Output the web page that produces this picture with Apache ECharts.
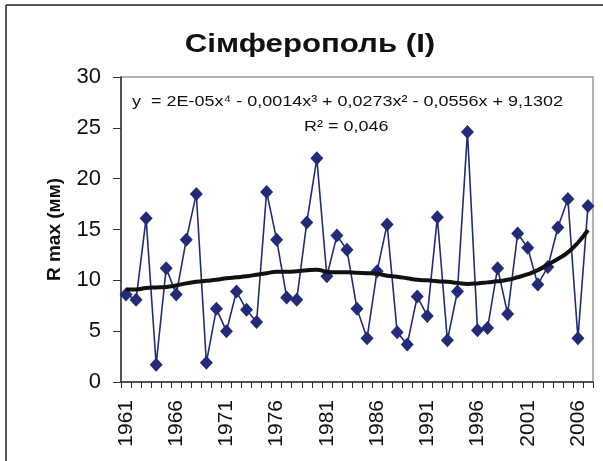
<!DOCTYPE html>
<html>
<head>
<meta charset="utf-8">
<script src="https://cdn.jsdelivr.net/npm/echarts@6/dist/echarts.min.js"></script>
<style>
  html, body { margin: 0; padding: 0; background: #fff; }
  #chart { width: 603px; height: 461px; }
</style>
</head>
<body>
<div id="chart"></div>
<script>
// роки спостережень
const years = [];
for (let y = 1961; y <= 2007; y++) years.push(String(y));

// R max, мм
const rMax = [
  8.6, 8.1, 16.1, 1.7, 11.2, 8.6, 14.0, 18.5, 1.9, 7.2,
  5.0, 8.9, 7.1, 5.9, 18.7, 14.0, 8.3, 8.1, 15.7, 22.0,
  10.4, 14.4, 13.0, 7.2, 4.3, 10.9, 15.5, 4.9, 3.7, 8.4,
  6.5, 16.2, 4.1, 8.9, 24.6, 5.1, 5.3, 11.2, 6.7, 14.6,
  13.2, 9.6, 11.3, 15.2, 18.0, 4.3, 17.3
];

// поліноміальний тренд (зчитано з лінії на графіку)
const trend = [
  9.1, 9.1, 9.25, 9.3, 9.35, 9.5, 9.7, 9.85, 9.95, 10.05,
  10.2, 10.3, 10.4, 10.55, 10.7, 10.85, 10.85, 10.9, 11.0, 11.05,
  10.85, 10.8, 10.8, 10.75, 10.7, 10.65, 10.45, 10.35, 10.2, 10.05,
  10.0, 9.9, 9.85, 9.75, 9.65, 9.7, 9.8, 9.9, 10.05, 10.3,
  10.6, 11.0, 11.55, 12.1, 12.75, 13.7, 14.95
];

const yTicks = [0, 5, 10, 15, 20, 25, 30];

const font = 'Arial, "Liberation Sans", sans-serif';
const chart = echarts.init(document.getElementById('chart'));

chart.setOption({
  animation: false,
  backgroundColor: '#fff',
  grid: {
    left: 121, right: 10, top: 77, bottom: 79,
    show: true, borderColor: '#9a9a9a', borderWidth: 1.5
  },
  xAxis: {
    type: 'category',
    data: years,
    boundaryGap: true,
    axisLine: { lineStyle: { color: '#333', width: 1.5 } },
    axisTick: { show: true, interval: 0, length: 6, lineStyle: { color: '#333' } },
    axisLabel: {
      interval: 4, rotate: 90, margin: 18,
      fontFamily: font, fontSize: 21, color: '#111'
    }
  },
  yAxis: {
    type: 'value',
    min: yTicks[0], max: yTicks[yTicks.length - 1], interval: 5,
    name: 'R max (мм)',
    nameLocation: 'middle',
    nameGap: 57,
    nameTextStyle: { fontFamily: font, fontSize: 19, fontWeight: 'bold', color: '#111' },
    splitLine: { show: false },
    axisLine: { show: true, lineStyle: { color: '#333', width: 1.5 } },
    axisTick: { show: true, length: 8, lineStyle: { color: '#333' } },
    axisLabel: { margin: 20, fontFamily: font, fontSize: 22, color: '#111' }
  },
  graphic: [
    { type: 'line', shape: { x1: 6, y1: 5, x2: 603, y2: 5 }, style: { stroke: '#222', lineWidth: 1.5 } },
    { type: 'line', shape: { x1: 6, y1: 5, x2: 6, y2: 461 }, style: { stroke: '#222', lineWidth: 1.5 } },
    {
      // заголовок
      type: 'text', x: 310, y: 45, scaleX: 1.2, z: 10,
      style: {
        text: 'Сімферополь (І)', align: 'center', verticalAlign: 'middle',
        font: 'bold 26px ' + font, fill: '#111'
      }
    },
    {
      type: 'text', x: 132, y: 102, scaleX: 1.16, z: 10,
      style: {
        text: 'y  = 2E-05x⁴ - 0,0014x³ + 0,0273x² - 0,0556x + 9,1302',
        verticalAlign: 'middle', font: '15.5px ' + font, fill: '#111'
      }
    },
    {
      type: 'text', x: 304, y: 127, scaleX: 1.16, z: 10,
      style: { text: 'R² = 0,046', verticalAlign: 'middle', font: '15.5px ' + font, fill: '#111' }
    }
  ],
  series: [
    {
      name: 'R max',
      type: 'line',
      data: rMax,
      symbol: 'diamond',
      symbolSize: [13, 14],
      showAllSymbol: true,
      itemStyle: { color: '#232a78' },
      lineStyle: { color: '#232a78', width: 1.6 },
      z: 2
    },
    {
      name: 'trend',
      type: 'line',
      data: trend,
      smooth: true,
      showSymbol: false,
      lineStyle: { color: '#111', width: 4 },
      z: 3
    }
  ]
});
</script>
</body>
</html>
